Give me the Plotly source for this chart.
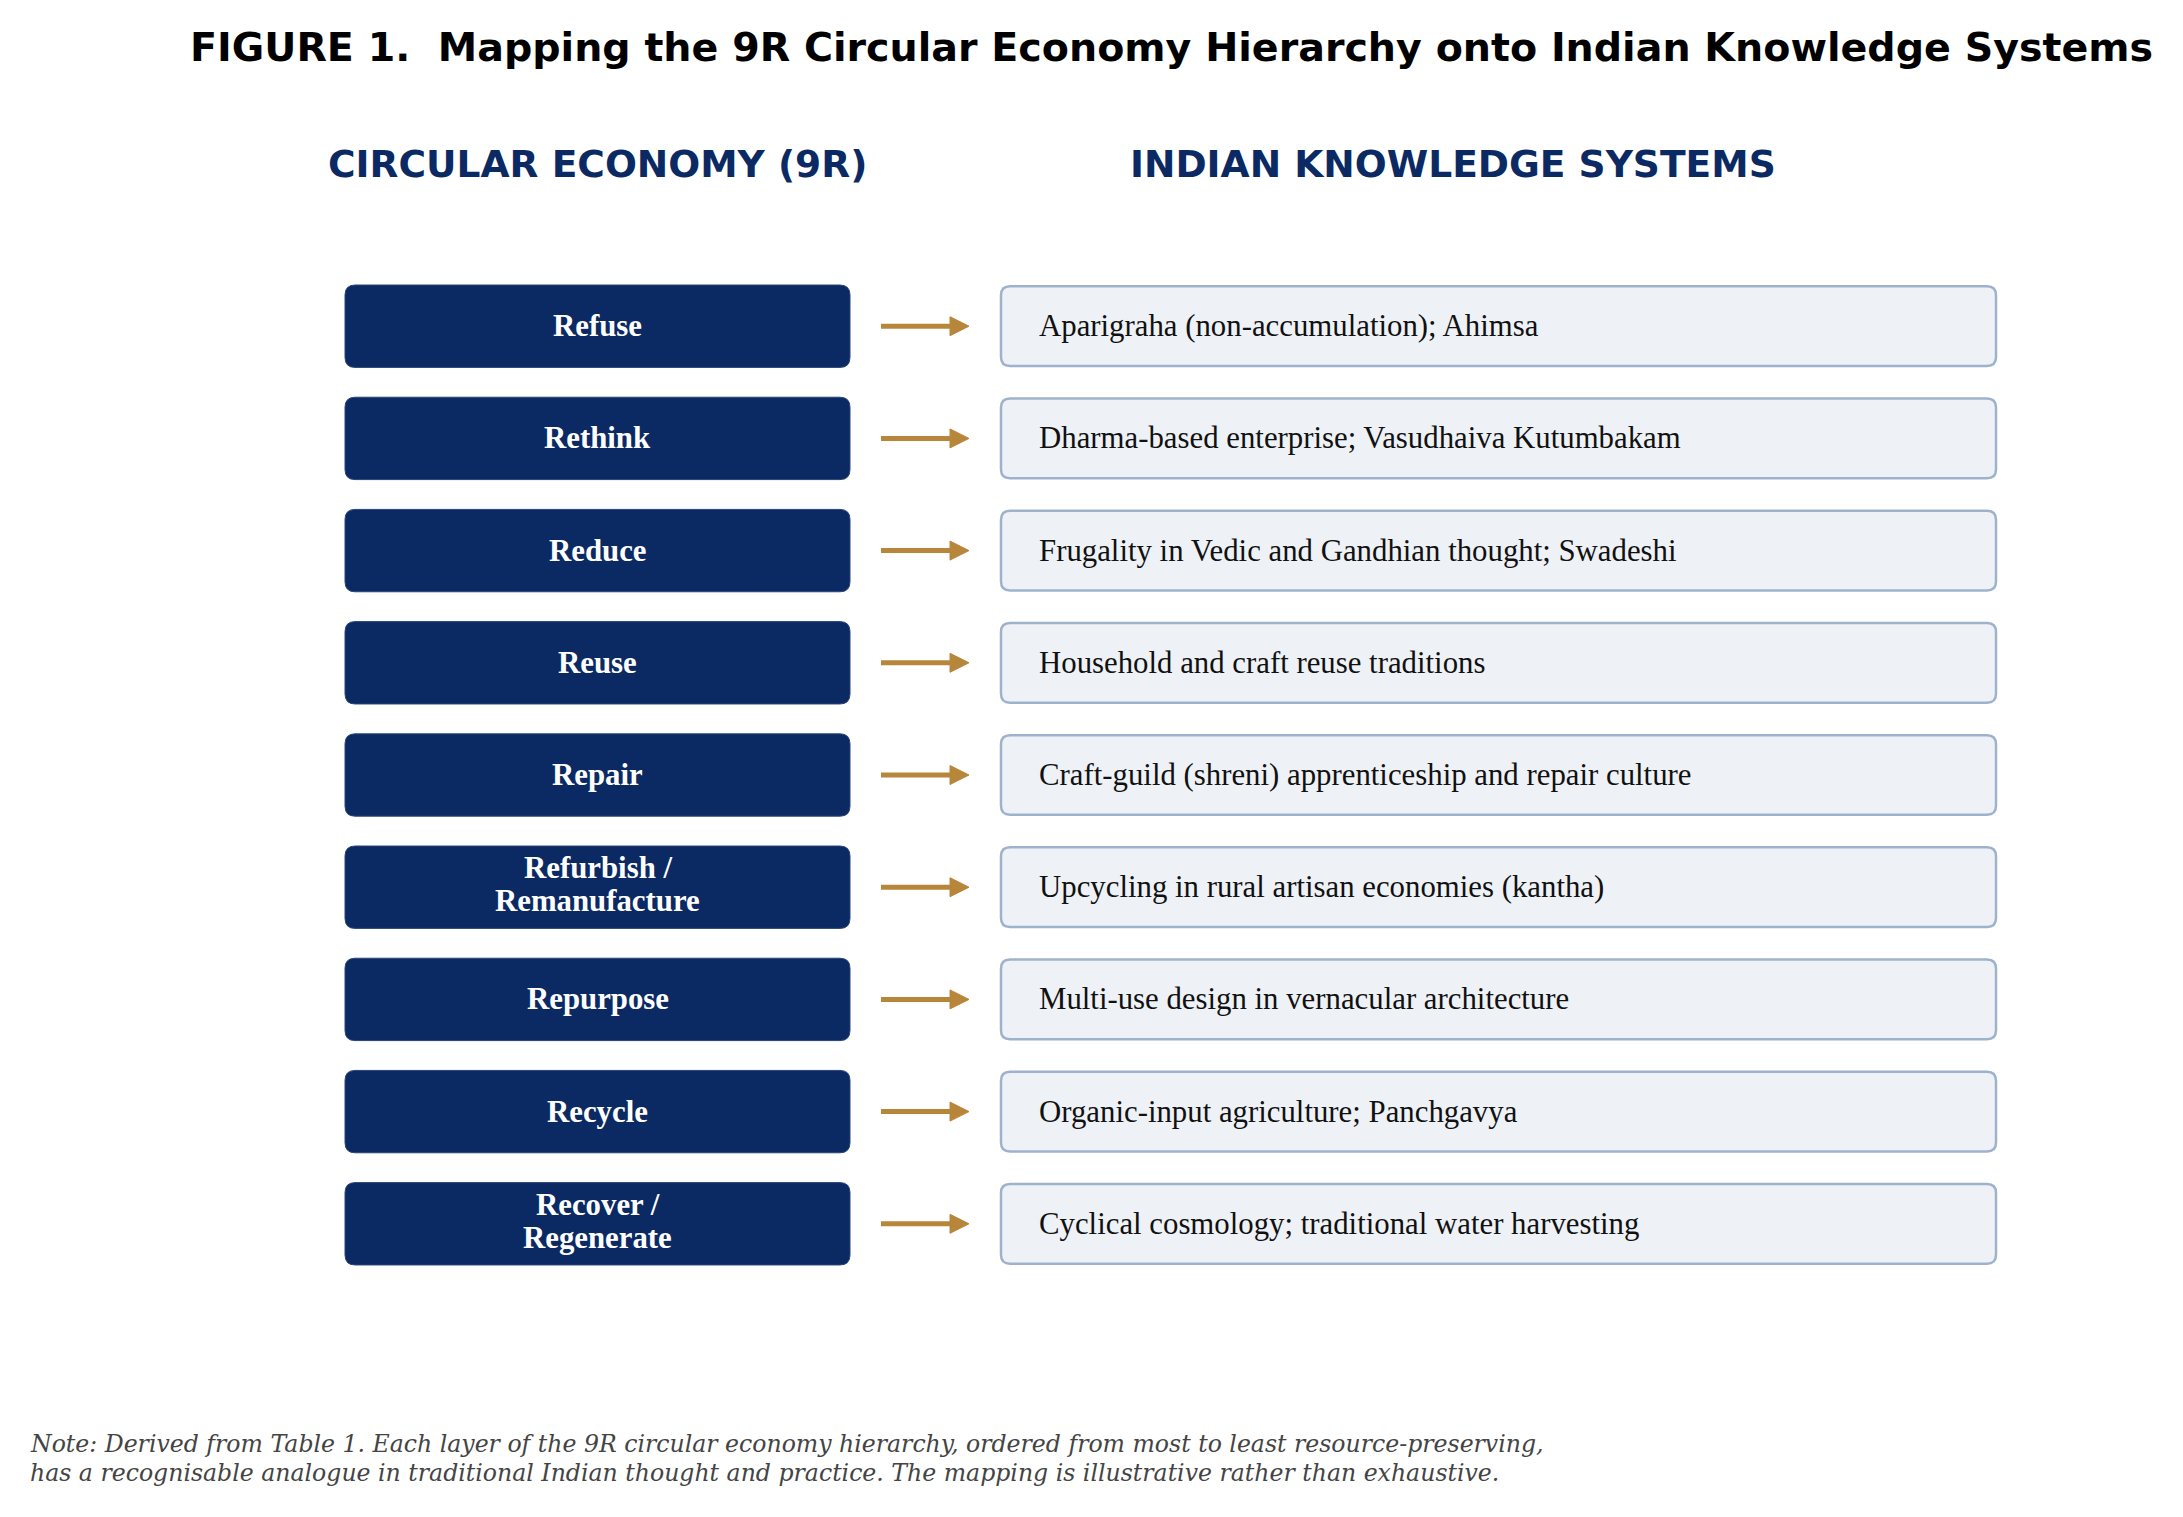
import plotly.graph_objects as go

# --- данные ---
r_labels = ["Refuse", "Rethink", "Reduce", "Reuse", "Repair",
            "Refurbish /\nRemanufacture", "Repurpose", "Recycle", "Recover /\nRegenerate"]
iks_labels = [
    "Aparigraha (non-accumulation); Ahimsa",
    "Dharma-based enterprise; Vasudhaiva Kutumbakam",
    "Frugality in Vedic and Gandhian thought; Swadeshi",
    "Household and craft reuse traditions",
    "Craft-guild (shreni) apprenticeship and repair culture",
    "Upcycling in rural artisan economies (kantha)",
    "Multi-use design in vernacular architecture",
    "Organic-input agriculture; Panchgavya",
    "Cyclical cosmology; traditional water harvesting",
]
col_headers = ["CIRCULAR ECONOMY (9R)", "INDIAN KNOWLEDGE SYSTEMS"]
title_text = "FIGURE 1.  Mapping the 9R Circular Economy Hierarchy onto Indian Knowledge Systems"
note_lines = [
    "Note: Derived from Table 1. Each layer of the 9R circular economy hierarchy, ordered from most to least resource-preserving,",
    "has a recognisable analogue in traditional Indian thought and practice. The mapping is illustrative rather than exhaustive.",
]
rows = list(range(len(r_labels)))

# --- геометрия ---
W, H = 2183, 1517
OFF = 8                 # отступ страницы
ROW_PX = 112.2          # шаг строки в пикселях
ROW0_PX = 326.2         # центр первой строки
NAVY = "#0B2A63"
GOLD = "#B8863B"

LX0, LX1 = 345, 850      # левые блоки
RX0, RX1 = 1000, 1996    # правые блоки
AX0, AX1, AHEAD = 881, 969, 19

def py(px):
    # пиксели -> координата строки
    return (px - ROW0_PX) / ROW_PX

def paper_y(px):
    return 1 - (px - OFF) / H

def rrect(x0, x1, y0, y1, rx, ry):
    return (f"M{x0+rx},{y0} L{x1-rx},{y0} Q{x1},{y0} {x1},{y0+ry} "
            f"L{x1},{y1-ry} Q{x1},{y1} {x1-rx},{y1} L{x0+rx},{y1} "
            f"Q{x0},{y1} {x0},{y1-ry} L{x0},{y0+ry} Q{x0},{y0} {x0+rx},{y0} Z")

fig = go.Figure()
fig.add_trace(go.Scatter(x=[LX0, RX1], y=[rows[0], rows[-1]], mode="markers",
                         marker=dict(opacity=0), hoverinfo="skip", showlegend=False))

shapes, annotations = [], []
ry = 10 / ROW_PX
for i, (lab, iks) in enumerate(zip(r_labels, iks_labels)):
    y = rows[i]
    # левый блок
    shapes.append(dict(type="path", xref="x", yref="y",
                       path=rrect(LX0, LX1, y - 0.367, y + 0.367, 10, ry),
                       fillcolor=NAVY, line=dict(color="#2A4478", width=1), layer="below"))
    # правый блок
    shapes.append(dict(type="path", xref="x", yref="y",
                       path=rrect(RX0 + 1, RX1, y - 0.355, y + 0.355, 9, 9 / ROW_PX),
                       fillcolor="#EEF2F7", line=dict(color="#9FB2CD", width=2.5), layer="below"))
    # стрелка
    shapes.append(dict(type="line", xref="x", yref="y", x0=AX0, x1=AX1 - AHEAD + 2, y0=y, y1=y,
                       line=dict(color=GOLD, width=5)))
    hh = 9.5 / ROW_PX
    shapes.append(dict(type="path", xref="x", yref="y",
                       path=f"M{AX1-AHEAD},{y-hh} L{AX1},{y} L{AX1-AHEAD},{y+hh} Z",
                       fillcolor=GOLD, line=dict(color=GOLD, width=1)))

    lines = lab.split("\n")
    for k, ln in enumerate(lines):
        off = (k - (len(lines) - 1) / 2) * 33 / ROW_PX
        if len(lines) > 1:
            off -= 2.5 / ROW_PX
        annotations.append(dict(x=(LX0 + LX1) / 2, y=y + off, xref="x", yref="y",
                                text=f"<b>{ln}</b>", showarrow=False,
                                xanchor="center", yanchor="middle",
                                font=dict(family="Liberation Serif", size=30.8, color="white")))
    annotations.append(dict(x=1037, y=y, xref="x", yref="y", text=iks, showarrow=False,
                            xanchor="left", yanchor="middle",
                            font=dict(family="Liberation Serif", size=30.8, color="#111111")))

# заголовки
annotations.append(dict(x=1171, y=paper_y(47), xref="x", yref="paper", text=f"<b>{title_text}</b>",
                        showarrow=False, xanchor="center", yanchor="middle",
                        font=dict(family="DejaVu Sans", size=39.6, color="black")))
for hx, ht in zip([597, 1453], col_headers):
    annotations.append(dict(x=hx, y=paper_y(164), xref="x", yref="paper", text=f"<b>{ht}</b>",
                            showarrow=False, xanchor="center", yanchor="middle",
                            font=dict(family="DejaVu Sans", size=37.6, color=NAVY)))
for k, nl in enumerate(note_lines):
    annotations.append(dict(x=28, y=paper_y(1444 + k * 29), xref="x", yref="paper",
                            text=f"<i>{nl}</i>", showarrow=False, xanchor="left", yanchor="middle",
                            font=dict(family="DejaVu Serif", size=23.6, color="#444444")))

fig.update_layout(
    width=W, height=H,
    margin=dict(l=0, r=0, t=0, b=0),
    paper_bgcolor="white", plot_bgcolor="white",
    xaxis=dict(range=[OFF, W + OFF], visible=False, fixedrange=True),
    yaxis=dict(range=[py(H + OFF), py(OFF)], visible=False, fixedrange=True),
    shapes=shapes, annotations=annotations,
    showlegend=False,
)

fig.write_html("out.html")
